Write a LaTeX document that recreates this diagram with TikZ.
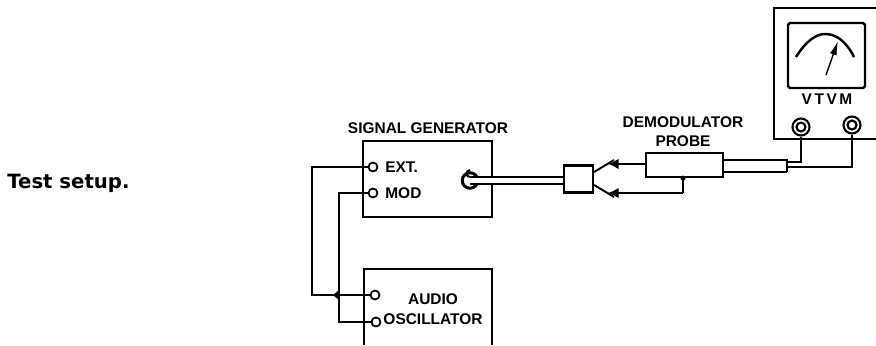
\documentclass[tikz,border=0pt]{standalone}
\usepackage{fontspec}
\setmainfont{Liberation Sans}
\newfontfamily\captionfont{DejaVu Sans}
\usetikzlibrary{arrows.meta}
\tikzset{
    wire/.style={line width=1.1pt},
    panel/.style={draw, line width=1.3pt, inner sep=0pt, fill=white},
    jack/.style={circle, draw, line width=1pt, fill=white, inner sep=0pt, minimum size=0.18cm},
    term/.style={circle, draw, line width=1.2pt, inner sep=0pt, fill=white},
    lbl/.style={font=\fontsize{8.8pt}{10pt}\selectfont\bfseries, inner sep=0pt},
}
\begin{document}
\begin{tikzpicture}[x=0.02cm, y=-0.02cm, >={Latex[length=6pt,width=6pt]}]
        \useasboundingbox (0,0) rectangle (876,345);

        % Caption
        \node[font=\captionfont\fontsize{11.2pt}{12pt}\selectfont\bfseries, anchor=west, inner sep=0pt] (caption) at (7,183) {Test setup.};

        % Signal generator
        \draw[line width=1.3pt] (363,141) rectangle (492,217);
        \node[lbl] (sgtitle) at (428,128) {SIGNAL GENERATOR};
        \node[jack] (ext) at (373,167) {};
        \node[jack] (mod) at (373,193) {};
        \node[lbl, anchor=west] (extlbl) at (385,167) {EXT.};
        \node[lbl, anchor=west] (modlbl) at (385,193) {MOD};

        % Audio oscillator, open at the bottom
        \draw[line width=1.3pt] (364,345) -- (364,269) -- (492,269) -- (492,345);
        \node[jack] (audioa) at (375,295) {};
        \node[jack] (audiob) at (376,322) {};
        \node[lbl] (audiolbl) at (433,299) {AUDIO};
        \node[lbl] (osclbl) at (433,319) {OSCILLATOR};

        % Jumpers between the two boxes
        \coordinate (extleft) at (312,167);
        \coordinate (extdown) at (312,295);
        \coordinate (modleft) at (339,193);
        \coordinate (moddown) at (339,322);
        \draw[wire] (ext) -- (extleft) -- (extdown) -- (audioa);
        \draw[wire] (mod) -- (modleft) -- (moddown) -- (audiob);
        \fill (333,295) -- (339,290) -- (339,300) -- cycle;

        % Output connector and cable
        \node[circle, draw, line width=1.7pt, inner sep=0pt, minimum size=0.31cm] (output) at (470,180.5) {};
        \node[panel, minimum width=0.58cm, minimum height=0.54cm] (coupler) at (578.5,179) {};
        \coordinate (cablea) at (470,177);
        \coordinate (cableb) at (470,184);
        \fill[white] (cablea) rectangle (cableb -| coupler.west);
        \draw[wire] (cablea) -- (cablea -| coupler.west);
        \draw[wire] (cableb) -- (cableb -| coupler.west);
        \draw[wire] (cablea) arc (90:270:3.5);

        % Demodulator probe
        \node[panel, minimum width=1.54cm, minimum height=0.48cm] (probe) at (684.5,165) {};
        \node[lbl] (probetopa) at (683,122) {DEMODULATOR};
        \node[lbl] (probetopb) at (683,141) {PROBE};

        % Fork from the coupler to the probe
        \coordinate (forka) at (608,164);
        \coordinate (forkb) at (608,193);
        \coordinate (ground) at (683,193);
        \draw[wire] (coupler.east |- 0,172) -- (614,160);
        \draw[wire] (coupler.east |- 0,185) -- (614,197);
        \draw[wire, ->] (probe.west |- forka) -- (forka);
        \draw[wire, ->] (ground) -- (forkb);
        \draw[wire] (ground) -- (probe.south -| ground);
        \fill (probe.south -| ground) circle (2.5);

        % VTVM, cut off at the right
        \draw[line width=1.3pt] (876,8) -- (774,8) -- (774,139) -- (876,139);
        \node[draw, line width=1.4pt, rounded corners=1pt, minimum width=1.54cm, minimum height=1.3cm, inner sep=0pt] (meter) at (826.5,55.5) {};
        \node[font=\fontsize{8.8pt}{10pt}\selectfont\bfseries, inner sep=0pt] (vtvm) at (827,99) {V\,T\,V\,M};
        \draw[line width=1.4pt] (796,57) .. controls (806,41) and (816,34) .. (825,34) .. controls (836,34) and (846,41) .. (854,57);
        \draw[line width=0.8pt, -{Latex[length=8pt,width=4pt]}] (826,75) -- (838,41);

        % Meter terminals
        \foreach \name/\x/\y in {terma/801/127, termb/852/125} {
            \node[term, minimum size=0.34cm] (\name) at (\x,\y) {};
            \node[term, minimum size=0.18cm] (\name in) at (\name) {};
        }

        % Probe cable and leads to the meter
        \coordinate (cabletop) at (787,160);
        \coordinate (cablebot) at (787,172);
        \draw[wire] (probe.east |- cabletop) -- (cabletop);
        \draw[wire] (probe.east |- cablebot) -- (cablebot);
        \draw[line width=1.4pt] (787,159) -- (787,172);
        \draw[wire] (787,162) -- (terma.south |- 0,162) -- (terma.south);
        \draw[wire] (787,167) -- (termb.south |- 0,167) -- (termb.south);
    \end{tikzpicture}
\end{document}
